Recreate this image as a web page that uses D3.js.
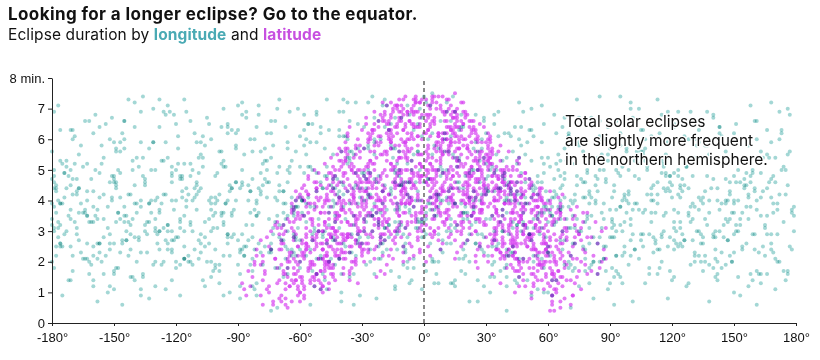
<!DOCTYPE html>
<html><head><meta charset="utf-8">
<script src="https://cdn.jsdelivr.net/npm/d3@7"></script>
<style>
body{margin:0;background:#fff;}
svg{display:block;font-family:"Liberation Sans",Arial,Helvetica,sans-serif;}
circle.lon{mix-blend-mode:multiply;}
.wide{font-family:Inter,"Liberation Sans",Arial,sans-serif;}
</style></head><body>
<svg id="chart" width="820" height="360"></svg>
<script>
const titleText = "Looking for a longer eclipse? Go to the equator.";
const subtitleParts = ["Eclipse duration by ", "longitude", " and ", "latitude"];
const noteLines = ["Total solar eclipses", "are slightly more frequent", "in the northern hemisphere."];
const xTicks = [-180,-150,-120,-90,-60,-30,0,30,60,90,120,150,180];
const yTicks = [0,1,2,3,4,5,6,7,8];
const seriesNames = ["longitude","latitude"];
// each eclipse: [longitude°, latitude°, duration in minutes]
const eclipses = [
[-152,-84,1.2],[33,-82,1.9],[-97,-86,0.9],[121,-81,2.4],[-12,-83,1.5],[170,-87,1.1],[-64,-81,2.2],[78,-85,1.7],[-130,-82,2.0],[5,-88,1.3],
[-171,-78,1.4],[-44,-76,2.8],[62,-79,0.9],[143,-74,3.0],[-109,-72,2.1],[18,-77,1.7],[-3,-71,3.1],[97,-75,2.5],[-158,-73,0.7],[-78,-79,1.9],[128,-71,1.3],[-26,-74,2.4],[45,-72,3.2],[165,-78,2.2],[-137,-76,1.1],[-92,-70,2.9],[84,-77,1.6],[-55,-73,0.6],[112,-79,2.7],[-118,-71,3.3],[29,-75,1.2],[-8,-78,2.0],
[-176,-68,2.6],[-141,-62,3.4],[-103,-66,1.5],[-67,-64,3.9],[-31,-69,0.9],[7,-61,4.1],[41,-65,2.2],[76,-67,3.0],[109,-63,1.8],[147,-69,2.7],[178,-61,3.6],[-160,-65,1.2],[-122,-70,2.4],[-85,-62,4.0],[-49,-67,1.6],[-14,-63,3.3],[22,-68,2.9],[58,-60,1.0],[93,-64,3.7],[131,-66,2.0],[-168,-60,4.2],[-133,-67,0.8],[-95,-63,2.8],[-58,-61,3.5],[-21,-66,2.1],[15,-64,1.4],[50,-69,3.1],[88,-61,2.5],[119,-68,1.7],[156,-63,3.8],[-147,-64,2.3],[-112,-61,1.9],[-74,-69,2.6],[-37,-62,4.3],[-1,-67,1.1],[34,-63,2.7],[69,-66,3.4],[101,-60,0.7],
[-179,-57,3.1],[-150,-52,4.6],[-126,-55,2.0],[-99,-59,1.3],[-71,-51,4.9],[-46,-56,3.6],[-18,-53,2.4],[9,-58,4.0],[37,-50,1.7],[64,-54,3.3],[90,-57,2.8],[116,-52,4.4],[141,-59,1.5],[169,-55,3.9],[-163,-50,2.6],[-137,-58,0.9],[-110,-53,3.7],[-83,-56,4.7],[-57,-59,2.2],[-29,-51,3.0],[-5,-55,1.8],[24,-57,4.3],[51,-52,2.9],[79,-58,3.5],[104,-51,2.1],[130,-56,4.8],[157,-53,1.2],[-171,-54,3.4],[-144,-59,2.7],[-117,-50,4.1],[-90,-54,1.9],[-62,-57,3.8],[-38,-52,2.5],[-11,-58,4.5],[16,-54,3.2],[44,-59,1.4],[71,-51,4.0],[97,-55,2.3],[123,-50,3.6],[150,-57,2.9],[176,-52,1.6],[-155,-56,4.2],[-128,-51,3.0],[-101,-57,2.4],[-76,-53,5.0],[-50,-50,1.1],[-24,-56,3.9],[3,-52,2.6],[30,-55,3.4],[57,-53,4.6],
[-174,-47,4.1],[-146,-43,2.7],[-119,-48,5.2],[-93,-41,3.5],[-66,-46,1.8],[-40,-44,4.6],[-13,-49,3.0],[14,-42,5.5],[40,-47,2.2],[67,-40,3.8],[94,-45,4.9],[120,-43,1.4],[147,-48,3.3],[173,-41,5.0],[-160,-45,2.5],[-133,-40,3.9],[-106,-49,1.2],[-80,-44,4.4],[-53,-47,3.1],[-27,-41,5.7],[0,-45,2.8],[27,-48,4.0],[53,-43,3.4],[81,-46,1.9],[107,-41,5.3],[134,-49,2.6],[160,-44,4.3],[-167,-42,3.6],[-139,-47,2.0],[-113,-43,4.8],[-86,-48,3.2],[-60,-42,2.4],[-33,-46,4.9],[-7,-40,3.7],[20,-44,1.6],[47,-49,3.0],[74,-42,4.5],[100,-47,2.7],[127,-40,5.1],[153,-46,3.4],[-153,-49,1.0],[-126,-44,3.1],[-99,-40,5.6],[-73,-45,2.9],[-46,-49,3.8],[-20,-43,2.3],[7,-47,4.2],[33,-41,3.5],[60,-45,5.4],[87,-49,2.1],[113,-42,3.9],[140,-47,4.7],[166,-43,2.9],[-177,-40,3.3],[-72,-41,4.1],[-36,-48,1.5],[-2,-43,5.0],[25,-40,2.6],[48,-46,3.6],[-122,-46,4.0],[96,-43,3.0],[-89,-47,2.3],
[-178,-36,4.5],[-152,-32,2.9],[-125,-38,5.9],[-98,-31,3.6],[-70,-35,1.8],[-43,-39,4.8],[-17,-33,3.2],[10,-37,6.2],[36,-30,2.6],[63,-34,4.1],[89,-38,5.3],[116,-32,3.0],[142,-36,1.6],[168,-31,4.7],[-164,-39,3.7],[-138,-34,5.1],[-111,-30,2.4],[-84,-37,4.3],[-57,-32,6.0],[-31,-35,2.8],[-4,-39,4.0],[23,-33,3.5],[50,-36,1.4],[77,-31,5.6],[103,-35,3.9],[130,-39,2.7],[156,-33,4.9],[-171,-30,6.3],[-145,-37,3.3],[-118,-33,1.9],[-91,-39,4.6],[-64,-30,3.8],[-37,-34,5.4],[-10,-31,2.5],[17,-38,4.4],[43,-32,3.1],[70,-37,6.1],[96,-30,2.2],[123,-34,4.2],[149,-38,3.6],[175,-35,5.0],[-157,-31,2.6],[-130,-36,4.0],[-104,-32,3.4],[-77,-38,5.7],[-50,-33,2.1],[-24,-37,4.7],[3,-30,3.9],[30,-35,5.2],[56,-39,2.9],[83,-32,4.5],[110,-37,3.3],[136,-31,5.8],[162,-36,2.3],[-149,-35,4.4],[-122,-31,3.0],[-95,-36,6.4],[-68,-33,2.7],[-41,-30,4.1],[-14,-36,3.7],[13,-32,1.3],[39,-38,4.9],[66,-33,3.4],[92,-39,2.8],[119,-30,4.6],[145,-35,3.2],[-175,-33,3.9],[-81,-34,4.0],[-27,-32,5.0],[6,-34,3.5],[59,-31,4.3],[-116,-39,2.1],
[-173,-27,5.1],[-147,-22,3.4],[-120,-28,6.5],[-93,-21,2.8],[-66,-26,4.6],[-39,-24,6.9],[-12,-29,3.7],[15,-23,5.4],[42,-27,2.3],[68,-20,4.9],[95,-25,6.2],[121,-22,3.1],[148,-28,4.3],[174,-21,1.7],[-160,-24,3.8],[-133,-29,5.7],[-106,-23,2.5],[-79,-27,4.2],[-52,-21,5.9],[-25,-25,3.0],[2,-28,4.7],[29,-22,6.6],[55,-26,3.5],[82,-29,2.0],[108,-24,5.0],[135,-20,3.9],[161,-27,6.0],[-167,-21,2.7],[-140,-25,4.5],[-113,-20,3.3],[-86,-28,6.7],[-59,-23,4.0],[-32,-27,2.6],[-5,-21,5.5],[22,-26,4.1],[48,-20,3.2],[75,-24,5.8],[101,-28,2.9],[128,-23,4.4],[154,-26,3.6],[-179,-29,4.8],[-154,-20,2.2],[-127,-26,5.3],[-100,-22,4.0],[-73,-29,3.1],[-46,-25,6.3],[-19,-20,4.5],[8,-24,2.4],[35,-29,5.0],[62,-23,3.8],[88,-27,4.6],[115,-21,6.8],[141,-25,2.8],[168,-22,4.1],[-163,-28,3.5],[-136,-23,1.5],[-109,-27,4.9],[-82,-22,3.7],[-55,-28,5.1],[-28,-22,3.3],[-1,-26,6.1],[26,-21,2.9],[52,-25,4.4],[79,-22,3.4],[105,-26,5.6],[132,-29,3.0],[158,-21,4.8],[-150,-27,5.9],[-116,-24,2.1],[-70,-20,4.3],[-36,-28,3.9],[-8,-23,4.2],[19,-27,3.6],[45,-24,5.2],[72,-28,2.6],[98,-21,4.0],[125,-27,4.7],[-176,-24,3.2],
[-170,-17,6.0],[-144,-12,3.5],[-117,-18,4.8],[-90,-11,7.1],[-63,-16,2.9],[-36,-13,5.3],[-9,-19,3.8],[18,-14,6.4],[45,-11,4.2],[71,-17,2.2],[98,-12,5.6],[124,-18,3.3],[151,-15,4.6],[177,-10,6.8],[-157,-14,2.6],[-130,-19,5.0],[-103,-13,3.9],[-76,-18,6.2],[-49,-10,4.4],[-22,-15,2.1],[5,-12,5.8],[32,-17,3.4],[58,-13,4.9],[85,-19,6.6],[111,-11,2.8],[138,-16,4.0],[164,-12,5.4],[-177,-18,3.1],[-150,-11,4.7],[-123,-15,6.9],[-97,-19,3.6],[-70,-14,5.1],[-43,-18,1.9],[-16,-11,4.3],[11,-16,7.2],[38,-12,3.0],[65,-18,5.5],[91,-14,4.1],[118,-10,2.5],[144,-17,6.1],[171,-13,3.7],[-163,-16,5.2],[-137,-10,2.3],[-110,-14,4.5],[-83,-12,3.2],[-56,-17,6.5],[-29,-13,4.8],[-2,-18,3.3],[25,-10,5.9],[52,-15,2.7],[78,-11,4.6],[105,-17,6.3],[131,-13,3.8],[158,-19,1.6],[-143,-17,4.2],[-116,-12,7.3],[-89,-16,2.4],[-62,-11,4.0],[-35,-19,5.6],[-8,-14,2.8],[19,-19,4.4],[46,-16,6.0],[72,-12,3.5],[99,-15,5.0],[125,-11,4.3],[152,-14,3.0],[-174,-12,4.9],[-103,-17,3.0],[-50,-14,4.6],[-15,-16,5.7],[2,-11,3.9],[39,-14,4.7],[86,-13,3.1],[-128,-13,3.6],[62,-19,4.1],[116,-16,5.2],[-67,-19,3.4],[-24,-12,6.7],[134,-19,2.9],[-160,-11,3.3],
[-178,-6,4.4],[-151,-2,6.7],[-124,-8,3.2],[-97,-1,5.1],[-70,-5,7.3],[-43,-9,3.9],[-16,-3,5.8],[11,-7,2.6],[38,-1,4.8],[64,-6,6.2],[91,-4,3.4],[117,-9,5.5],[144,-2,2.3],[170,-7,4.6],[-164,-4,3.6],[-137,-9,5.9],[-110,-3,4.2],[-83,-7,2.1],[-56,-2,6.5],[-29,-6,4.0],[-2,-10,7.0],[25,-4,3.3],[52,-8,5.3],[78,-3,4.1],[105,-7,2.9],[131,-1,6.0],[158,-5,3.8],[-171,-9,5.0],[-144,-3,2.7],[-117,-6,4.7],[-90,-10,6.3],[-63,-4,3.5],[-36,-8,5.4],[-9,-2,2.4],[18,-5,6.8],[45,-9,4.3],[71,-2,3.1],[98,-6,5.7],[124,-10,4.5],[151,-3,3.0],[177,-8,5.6],[-157,-7,4.1],[-130,-1,3.0],[-103,-5,6.0],[-76,-9,4.6],[-49,-3,2.8],[-22,-7,6.6],[5,-1,3.7],[32,-6,5.0],[58,-10,3.6],[85,-4,7.4],[111,-8,4.0],[138,-2,5.2],[164,-6,2.5],[-147,-5,4.9],[-120,-10,2.0],[-93,-4,4.4],[-66,-8,5.7],[-39,-1,3.8],[-12,-5,4.5],[15,-9,3.9],[42,-3,6.1],[68,-7,4.7],[95,-1,3.2],[121,-5,6.4],[148,-9,4.2],[-167,-2,5.5],[-106,-8,3.3],[-52,-6,4.9],[-19,-9,3.1],[8,-4,5.1],[55,-5,2.2],[102,-3,4.8],[-140,-7,3.9],[161,-1,4.0],[-80,-1,3.6],[28,-8,4.2],[75,-9,5.9],[-33,-4,7.2],[128,-6,3.5],[-4,-6,4.6],[-60,-10,4.1],
[-175,3,5.2],[-148,8,3.6],[-121,1,6.8],[-94,6,4.3],[-67,2,2.5],[-40,9,5.6],[-13,4,3.9],[14,7,7.4],[41,1,4.6],[67,5,3.0],[94,9,5.9],[120,3,4.1],[147,7,2.7],[173,2,6.3],[-161,5,4.7],[-134,10,3.3],[-107,4,5.4],[-80,8,7.1],[-53,1,3.8],[-26,6,4.9],[1,3,2.9],[28,9,6.0],[54,4,4.4],[81,8,3.5],[107,2,5.7],[134,6,4.0],[160,10,6.6],[-168,7,3.1],[-141,1,5.0],[-114,6,4.2],[-87,3,2.2],[-60,7,6.1],[-33,2,4.5],[-6,8,5.3],[21,5,3.4],[48,10,6.9],[74,1,4.8],[101,7,3.7],[127,4,5.1],[154,8,2.4],[-178,9,4.3],[-154,3,6.5],[-127,8,3.9],[-100,2,4.9],[-73,6,5.8],[-46,10,3.2],[-19,3,6.4],[8,6,4.0],[35,2,5.5],[61,7,3.6],[88,3,4.7],[114,9,6.2],[141,5,3.0],[167,1,4.6],[-147,6,5.6],[-120,4,2.8],[-93,9,4.4],[-66,5,3.5],[-39,1,7.3],[-12,7,5.0],[15,3,3.1],[42,8,4.2],[68,2,6.7],[95,6,3.8],[121,10,4.9],[-171,4,3.7],[-110,7,5.9],[-56,4,4.1],[-22,9,3.3],[4,1,6.2],[31,6,4.8],[58,8,5.2],[85,1,2.0],[111,5,4.5],[-137,2,4.0],[-84,10,3.6],[-29,5,5.7],[-3,9,4.3],[24,4,5.0],[77,6,4.1],[131,8,5.4],[-158,9,2.6],[-44,3,4.7],[49,5,3.9],[104,3,7.0],[-97,1,3.2],[17,10,4.6],[157,4,3.4],
[-172,14,4.8],[-145,18,6.6],[-118,11,3.4],[-91,16,5.7],[-64,12,4.1],[-37,19,7.2],[-10,13,2.9],[17,17,5.3],[44,11,4.0],[70,15,6.1],[97,19,3.3],[123,12,5.0],[150,16,2.3],[176,13,4.5],[-158,11,3.7],[-131,15,5.9],[-104,19,2.6],[-77,13,4.7],[-50,17,6.4],[-23,11,3.6],[4,15,7.5],[31,19,4.3],[57,12,3.1],[84,16,5.4],[110,20,4.2],[137,14,6.9],[163,18,3.5],[-165,17,5.1],[-138,12,2.8],[-111,16,4.4],[-84,11,6.0],[-57,15,3.3],[-30,20,4.9],[-3,12,5.6],[24,16,3.8],[51,13,6.3],[77,18,2.5],[104,11,4.7],[130,15,3.9],[157,19,5.8],[-179,16,3.0],[-152,20,4.6],[-125,13,6.8],[-98,17,3.5],[-71,14,4.0],[-44,12,5.5],[-17,16,3.2],[10,11,6.0],[37,14,4.4],[64,18,5.2],[90,12,3.7],[117,17,4.8],[143,11,6.2],[170,15,2.1],[-151,13,4.1],[-124,18,3.2],[-97,12,7.0],[-70,19,4.5],[-43,15,2.7],[-16,19,6.5],[11,13,4.1],[38,18,3.0],[65,14,5.0],[92,17,4.3],[118,13,5.9],[-168,12,4.3],[-115,14,3.8],[-60,16,5.1],[-26,14,4.2],[1,18,3.6],[28,12,5.7],[74,11,3.4],[101,15,6.7],[147,18,4.0],[-141,16,5.3],[-88,18,2.9],[-7,15,4.6],[47,16,4.9],[124,19,3.1],[-180,14,3.9],[-34,12,3.5],[55,19,4.2],[-79,15,5.6],[160,12,4.4],[-101,20,3.9],[20,14,4.8],[86,13,6.0],[-12,18,3.3],
[-176,24,3.9],[-149,28,5.6],[-122,21,2.7],[-95,25,6.2],[-68,29,4.3],[-41,22,3.1],[-14,26,5.0],[13,23,6.6],[40,27,3.6],[66,21,4.8],[93,25,2.2],[119,29,5.4],[146,22,4.0],[172,26,6.0],[-162,22,3.3],[-135,26,4.7],[-108,30,5.9],[-81,23,3.5],[-54,27,6.5],[-27,21,4.2],[0,25,3.0],[27,29,5.3],[53,22,4.5],[80,26,1.8],[106,23,6.3],[133,27,3.7],[159,21,4.9],[-169,29,5.2],[-142,23,2.9],[-115,27,4.4],[-88,21,6.8],[-61,25,3.8],[-34,30,5.5],[-7,23,4.1],[20,27,2.6],[47,21,5.8],[73,25,4.0],[100,29,3.2],[126,22,6.1],[153,26,4.6],[-155,25,3.4],[-128,29,6.4],[-101,22,4.1],[-74,26,2.4],[-47,23,5.1],[-20,28,3.9],[7,21,5.7],[34,25,4.3],[60,29,3.3],[87,22,5.0],[113,26,4.2],[140,30,2.8],[166,23,5.5],[-179,21,4.6],[-112,25,3.0],[-58,22,4.9],[-24,25,6.0],[3,28,3.7],[30,22,4.7],[57,26,5.9],[83,29,3.9],[110,24,4.4],[136,25,2.0],[163,28,4.1],[-145,21,5.7],[-91,28,4.0],[-38,26,3.4],[17,25,5.4],[70,23,3.8],[123,28,4.8],[-171,27,2.5],[-64,24,5.3],[-11,29,4.5],[44,24,6.4],[96,27,5.1],[-132,24,3.6],[150,24,3.6],[-84,30,4.3],[23,30,3.2],[-50,29,2.2],[-3,22,5.6],[63,27,4.7],[116,21,3.5],[-118,23,4.8],
[-173,34,4.4],[-146,38,2.6],[-119,31,5.7],[-92,35,3.7],[-65,39,4.9],[-38,32,6.1],[-11,36,3.2],[16,33,4.6],[43,37,2.3],[69,31,5.3],[96,35,4.0],[122,39,3.0],[149,32,5.9],[175,36,4.2],[-159,33,3.5],[-132,37,5.0],[-105,31,2.0],[-78,35,4.5],[-51,39,3.4],[-24,33,5.5],[3,37,4.1],[30,31,6.2],[56,35,3.6],[83,39,4.8],[109,32,2.9],[136,36,4.3],[162,33,1.6],[-166,39,3.9],[-139,32,5.4],[-112,36,4.0],[-85,33,2.7],[-58,37,5.8],[-31,31,4.4],[-4,35,3.1],[23,39,5.0],[50,32,3.9],[76,36,4.7],[103,33,5.6],[129,37,3.3],[156,31,4.5],[-152,35,2.4],[-125,39,4.2],[-98,32,5.2],[-71,36,3.5],[-44,34,4.0],[-17,38,2.8],[10,32,5.6],[37,36,3.3],[63,33,4.3],[90,37,1.3],[116,31,5.1],[143,35,3.7],[169,38,4.8],[-179,31,5.0],[-118,34,3.1],[-62,33,2.2],[-28,36,4.7],[7,34,3.8],[34,38,4.9],[60,31,2.5],[87,34,3.4],[113,38,4.6],[-145,31,3.8],[-88,38,4.6],[-8,32,5.2],[40,34,4.1],[126,34,2.7],[-160,37,4.3],[-48,35,3.0],[19,35,3.6],[73,38,3.1],[-101,36,4.8],[153,38,3.2],[-21,31,6.0],[99,30,4.2],[-134,34,2.9],[-74,31,5.4],[46,39,3.9],
[-178,43,3.6],[-151,47,4.8],[-124,41,2.4],[-97,45,5.3],[-70,49,3.2],[-43,42,4.4],[-16,46,1.7],[11,43,5.0],[38,47,3.5],[64,41,4.2],[91,45,2.8],[117,49,4.9],[144,42,3.9],[170,46,5.4],[-164,44,2.1],[-137,48,3.8],[-110,42,4.6],[-83,46,1.2],[-56,43,5.1],[-29,47,3.4],[-2,41,4.0],[25,45,2.6],[51,49,4.7],[78,42,3.3],[104,46,5.2],[131,43,2.2],[157,47,4.1],[-171,41,4.5],[-144,45,3.0],[-117,49,4.3],[-90,43,2.7],[-63,47,3.7],[-36,41,5.6],[-9,45,3.1],[18,49,3.9],[45,42,4.6],[71,46,1.9],[98,43,3.6],[124,47,4.4],[151,41,3.2],[177,45,2.5],[-157,49,4.9],[-130,42,3.4],[-103,46,2.0],[-76,44,4.1],[-49,48,2.9],[-22,42,4.8],[5,46,3.5],[32,44,1.0],[58,48,3.8],[85,41,5.0],[111,44,2.3],[138,48,3.6],[164,42,4.3],[-150,43,2.6],[-96,41,3.9],[-42,48,4.2],[13,41,3.0],[67,44,4.5],[121,43,3.7],[-180,48,3.2],[-63,44,2.3],[-14,43,4.6],[39,45,4.0],[92,49,3.2],[-120,45,5.0],[150,46,4.8],[-5,48,2.1],[-32,44,3.9],[80,47,4.3],
[-174,53,2.9],[-147,57,4.1],[-120,51,1.8],[-93,55,3.6],[-66,59,2.4],[-39,52,4.5],[-12,56,3.1],[15,53,1.2],[42,57,4.0],[68,51,2.7],[95,55,3.8],[121,59,1.5],[148,52,4.6],[174,56,3.3],[-160,54,2.2],[-133,58,3.9],[-106,52,2.8],[-79,56,4.3],[-52,53,1.6],[-25,57,3.5],[2,51,4.7],[29,55,2.3],[55,59,3.4],[82,52,0.8],[108,56,4.2],[135,53,2.6],[161,57,3.7],[-167,51,4.4],[-140,55,1.4],[-113,59,3.2],[-86,53,2.5],[-59,57,4.0],[-32,51,2.9],[-5,55,3.8],[22,59,2.0],[49,52,4.1],[75,56,3.0],[102,53,2.4],[128,57,3.6],[155,51,4.5],[-153,58,3.1],[-126,53,4.2],[-99,57,1.9],[-72,51,3.3],[-45,55,2.1],[-18,59,3.7],[9,52,2.7],[36,56,4.4],[62,54,3.5],[89,58,1.1],[115,51,2.9],[142,55,4.0],[168,59,2.4],[-180,55,3.4],[-116,55,3.0],[-62,54,3.8],[-9,58,2.6],[45,54,3.2],[99,59,3.9],[141,51,2.1],
[-169,63,3.3],[-142,67,1.5],[-115,61,4.0],[-88,65,2.4],[-61,69,3.1],[-34,62,0.6],[-7,66,3.6],[20,63,2.2],[47,67,4.2],[73,61,1.8],[100,65,3.4],[126,69,2.7],[153,62,0.9],[179,66,3.8],[-155,61,2.8],[-128,65,3.7],[-101,69,1.9],[-74,63,0.4],[-47,67,2.6],[-20,61,4.3],[7,65,1.3],[34,69,3.0],[60,62,2.3],[87,66,3.9],[113,63,1.6],[140,67,2.9],[166,61,3.5],[-162,68,2.0],[-135,62,3.2],[-108,66,2.6],[-81,61,3.9],[-54,65,1.7],[-27,69,2.8],[0,62,3.3],[26,66,0.7],[53,63,2.0],[80,68,3.1],[106,61,2.5],[133,65,4.1],[159,69,1.4],[-148,64,3.6],[-94,67,2.2],[-40,64,1.0],[13,68,3.4],[66,64,2.7],
[-176,73,2.6],[-149,77,3.3],[-122,71,1.4],[-95,75,2.9],[-68,79,3.6],[-41,72,2.1],[-14,76,1.1],[13,73,3.2],[40,77,2.4],[66,71,3.7],[93,75,1.7],[119,79,2.8],[146,72,3.4],[172,76,2.0],[-162,79,1.6],[-135,74,3.0],[-108,78,2.3],[-81,72,0.9],[-54,76,2.7],[-27,73,3.5],[0,78,1.9],[27,72,2.5],[53,76,3.1],[80,73,1.3],[106,77,3.6],[133,71,2.2],[159,75,2.9],[-12,74,3.8],
[-170,82,2.2],[-128,86,3.0],[-83,81,1.7],[-39,84,2.6],[4,88,2.1],[48,83,3.3],[91,85,1.8],[135,81,2.8],[178,87,2.4],[-150,84,1.6],[70,86,2.0],[-100,88,3.1],
[-165,-58,2.1],[-139,-64,3.6],[-108,-52,4.4],[-81,-67,1.3],[-53,-55,3.0],[-22,-61,2.5],[12,-53,3.9],[39,-66,1.8],[73,-56,4.2],[106,-62,2.9],[137,-51,3.2],[163,-68,1.6],[-173,-63,3.0],[-124,-57,2.6],[-88,-50,4.5],[-60,-65,2.0],[-27,-52,4.1],[1,-60,3.4],[31,-58,2.2],[60,-63,3.7],[92,-53,1.5],[121,-65,3.3],[152,-58,4.0],[-150,-61,1.1],[-102,-64,3.1],[-44,-59,4.4],[-9,-65,2.3],[20,-50,3.6],[52,-61,0.9],[84,-52,4.3],[114,-69,2.4],[145,-54,2.8],[-179,-52,3.8],[-131,-69,1.9],[-69,-54,2.7],[-34,-68,3.2],[68,-59,4.1],[171,-62,2.0],[-116,-59,3.5],[45,-55,1.3],
[-168,-44,4.7],[-142,-36,3.2],[-114,-48,2.2],[-87,-33,5.5],[-59,-41,4.0],[-32,-47,2.7],[-6,-35,5.0],[21,-43,3.6],[49,-31,4.6],[78,-49,2.4],[102,-38,5.3],[129,-45,3.8],[155,-32,4.4],[179,-42,3.0],[-156,-39,5.2],[-129,-46,2.9],[-103,-34,4.1],[-75,-42,3.4],[-48,-37,5.7],[-19,-44,3.1],[8,-32,4.8],[35,-46,2.5],[61,-36,5.1],[91,-43,3.3],[115,-34,4.9],[142,-48,2.0],[167,-38,5.4],[-177,-45,2.8],[-148,-31,5.0],[-121,-40,3.7],[-94,-46,4.5],[-66,-31,3.0],[-39,-43,4.2],[-12,-38,5.6],[15,-48,3.9],[42,-34,4.3],[70,-45,3.1],[95,-33,5.8],[124,-41,2.6],[150,-30,4.0],[-161,-48,3.3],[-135,-33,4.6],[-107,-44,5.1],[-79,-30,2.3],[-52,-45,4.3],[-25,-31,3.5],[0,-41,4.6],[28,-37,2.9],[55,-44,4.8],[86,-35,3.6],[110,-47,4.0],[138,-37,5.5],[160,-49,2.4],[-170,-35,4.2],[-96,-38,3.9],[-63,-48,3.6],[-29,-39,4.9],[4,-46,2.0],[38,-40,5.3],[65,-32,3.8],[118,-30,4.4],[-145,-42,3.5],[-83,-45,2.8],[-16,-47,4.4],[24,-33,5.7],[81,-41,4.1],[133,-43,3.0],[-124,-31,5.4],[-43,-33,3.3],[57,-38,2.1],
[-166,-22,5.8],[-139,-15,3.9],[-111,-27,6.2],[-85,-12,4.5],[-58,-19,6.8],[-31,-25,4.1],[-3,-13,6.5],[24,-21,3.7],[50,-16,5.9],[77,-28,4.6],[103,-11,6.6],[130,-24,3.4],[157,-18,5.3],[-179,-14,4.4],[-152,-26,6.0],[-125,-19,2.7],[-98,-24,5.6],[-71,-13,7.0],[-44,-28,3.8],[-17,-17,6.3],[9,-26,4.9],[36,-12,6.9],[63,-22,3.2],[90,-16,5.7],[117,-29,4.3],[143,-13,6.4],[169,-23,3.6],[-159,-11,5.0],[-132,-21,4.0],[-105,-16,6.7],[-78,-25,5.2],[-51,-14,3.0],[-24,-23,5.9],[3,-18,7.1],[30,-27,4.4],[57,-11,5.4],[84,-21,2.6],[110,-15,6.1],[137,-26,4.8],[163,-10,5.6],[-172,-25,3.5],[-145,-17,6.6],[-118,-23,4.7],[-91,-14,5.8],[-64,-27,2.4],[-37,-11,6.0],[-10,-24,4.6],[16,-15,5.1],[43,-29,3.3],[70,-13,6.2],[97,-26,4.1],[123,-19,6.9],[150,-11,3.9],[176,-20,5.5],[-163,-28,4.3],[-136,-12,5.4],[-81,-20,3.5],[-54,-16,5.0],[-27,-20,7.2],[-1,-29,3.4],[26,-18,5.6],[52,-24,6.3],[80,-17,4.2],[107,-20,3.7],[133,-16,5.9],[160,-26,2.9],[-149,-22,4.6],[-95,-28,4.0],[-41,-21,6.1],[12,-20,4.3],[66,-26,5.3],[120,-13,4.5],[-176,-16,6.3],[-122,-11,4.9],[-67,-22,6.4],[-13,-27,5.2],[40,-19,4.0],[93,-12,5.0],[146,-21,4.7],[-108,-20,2.9],
[-169,-3,6.1],[-142,5,4.2],[-115,-8,6.9],[-88,2,5.0],[-61,-6,7.0],[-34,8,4.4],[-7,-1,6.8],[20,6,3.8],[47,-9,6.4],[73,3,5.2],[100,-4,7.2],[126,9,4.5],[153,-7,6.0],[179,1,3.5],[-155,-9,5.4],[-128,4,7.3],[-101,-2,3.6],[-74,7,6.2],[-47,-5,4.8],[-20,2,7.1],[7,-8,5.0],[34,5,6.5],[60,-3,4.0],[87,9,6.0],[113,-6,5.3],[140,3,6.8],[166,-9,4.4],[-162,1,6.6],[-135,-5,4.5],[-108,9,5.5],[-81,-3,6.4],[-54,5,2.9],[-27,-9,5.8],[0,4,7.4],[27,-2,4.6],[53,7,6.1],[80,-7,3.9],[106,1,5.6],[133,-10,6.3],[159,6,5.0],[-176,-7,3.9],[-149,8,5.7],[-122,-1,4.8],[-95,-9,6.5],[-68,3,4.3],[-41,-4,6.9],[-14,9,4.9],[13,-6,6.1],[40,2,5.4],[66,-10,4.4],[93,5,6.6],[119,-2,4.8],[146,8,5.6],[172,-5,6.9],[-158,-1,3.4],[-131,6,5.9],[-104,-6,4.0],[-77,1,5.3],[-50,-8,6.2],[-23,4,4.6],[4,-3,5.5],[31,10,4.3],[57,-5,7.1],[84,4,4.7],[110,-9,3.6],[137,2,5.8],[163,-3,4.9],[-173,6,5.3],[-119,3,6.1],[-65,-1,5.1],[-11,5,6.7],[43,-7,5.6],[97,7,4.2],[150,0,6.2],[-145,-8,6.0],[-91,6,4.6],[-37,-2,5.2],[17,2,6.3],[70,8,5.8],[124,-6,4.1],[-180,-2,4.7],[-57,9,5.5],[-3,-6,3.3],[89,-1,5.5],[-112,5,5.0],
[-167,21,4.4],[-140,13,6.4],[-113,26,5.2],[-86,15,6.9],[-59,28,3.6],[-32,17,5.7],[-5,24,6.3],[22,12,4.9],[49,27,5.5],[75,14,6.7],[102,22,3.9],[128,17,6.0],[155,29,4.7],[-180,11,5.6],[-153,24,3.8],[-126,16,5.3],[-99,29,4.2],[-72,11,6.6],[-45,21,4.5],[-18,13,7.1],[9,27,5.0],[36,16,6.1],[62,23,3.5],[89,11,6.4],[115,26,5.3],[142,14,4.4],[168,23,5.9],[-160,15,6.2],[-133,27,3.3],[-106,13,5.8],[-79,24,4.9],[-52,16,6.8],[-25,28,3.7],[2,20,6.0],[29,14,5.4],[55,25,4.6],[82,19,6.5],[108,13,5.1],[135,25,4.1],[161,16,6.6],[-174,28,4.9],[-147,17,5.9],[-120,22,4.0],[-93,14,6.3],[-66,26,5.0],[-39,18,6.1],[-12,22,4.8],[15,11,6.9],[42,29,4.4],[68,17,5.7],[95,23,4.8],[121,15,6.5],[148,27,3.4],[174,19,5.1],[-163,19,4.0],[-109,21,5.4],[-55,13,5.9],[-1,16,6.7],[53,21,4.3],[106,18,5.5],[-137,20,6.9],[-83,27,5.6],[-29,15,6.4],[25,21,4.1],[79,28,5.0],[132,12,5.8],[-176,25,5.3],[-122,29,4.6],[-68,20,3.9],[-15,27,5.4],[39,23,6.2],[92,29,4.5],[145,20,5.2],[-150,11,4.8],[-96,23,5.1],[-42,25,4.7],[12,25,5.6],[66,13,4.0],[119,24,4.3],[171,28,3.9],
[-170,38,4.7],[-143,46,3.3],[-116,33,5.2],[-89,41,4.4],[-62,36,5.6],[-35,48,2.9],[-8,39,4.6],[19,44,3.4],[46,32,5.4],[72,47,3.9],[99,37,4.3],[125,43,2.5],[152,34,5.0],[178,49,3.7],[-156,31,5.8],[-129,44,4.1],[-102,38,3.5],[-75,47,4.6],[-48,33,4.8],[-21,42,3.6],[6,48,4.2],[33,35,5.1],[59,43,2.8],[86,31,5.5],[112,45,3.6],[139,36,4.4],[165,41,3.1],[-163,47,3.5],[-136,35,4.8],[-109,45,4.3],[-82,32,6.0],[-55,44,3.8],[-28,35,4.4],[-1,46,3.3],[26,38,5.0],[52,47,4.1],[79,34,4.9],[105,42,2.7],[132,31,5.3],[158,45,4.6],[-177,34,4.0],[-122,40,5.1],[-68,42,3.2],[-14,33,5.7],[40,41,4.5],[93,48,3.0],[146,39,3.9],[-149,39,4.5],[-95,49,2.6],[-41,39,4.3],[13,37,4.4],[66,38,3.7],[119,33,4.8],[172,43,4.2],[-130,49,3.1],[-76,37,5.3],[-22,49,3.2],[30,44,4.2],[83,44,4.0],[136,47,3.4],
[-165,52,3.6],[-138,61,2.7],[-111,56,4.1],[-84,64,1.9],[-57,51,3.9],[-30,59,2.6],[-3,63,3.4],[24,54,4.0],[51,58,2.9],[78,66,2.1],[104,53,3.7],[131,60,2.3],[157,55,4.2],[-178,60,2.5],[-151,53,4.0],[-124,67,3.0],[-97,52,3.3],[-70,58,2.8],[-43,66,3.5],[-16,53,4.2],[11,60,3.0],[38,52,3.7],[64,62,1.4],[91,54,3.1],[117,66,3.6],[144,57,1.8],[171,63,2.9],[-157,66,2.3],[-103,61,3.7],[-49,57,4.4],[5,56,2.0],[59,55,3.8],[112,59,2.6],[165,54,3.2],[-82,54,2.4],
[-161,-47,1.9],[-134,-38,2.3],[-107,-55,1.4],[-80,-42,2.6],[-53,-61,1.2],[-26,-35,2.0],[1,-50,1.7],[28,-44,2.4],[55,-58,1.1],[82,-37,2.8],[109,-52,1.6],[136,-41,2.2],[163,-63,1.3],[-175,-56,2.5],[-148,-45,1.8],[-121,-33,2.7],[-94,-60,1.0],[-67,-49,2.1],[-40,-39,1.6],[-13,-57,2.4],[14,-46,1.3],[41,-36,2.9],[68,-53,1.9],[95,-44,1.5],[122,-59,2.6],[149,-34,2.0],[176,-48,1.7],[-168,-40,2.9],[-141,-54,1.5],[-114,-46,2.0],[-87,-35,2.5],[-60,-56,1.8],[-33,-43,2.2],[-6,-62,1.4],[21,-38,2.7],[48,-51,2.1],[75,-65,1.2],[102,-40,2.4],[129,-55,1.9],[156,-47,2.6],[-155,-62,1.6],[-128,-49,2.4],[-101,-39,1.8],[-74,-58,2.3],[-47,-46,1.1],[-20,-33,2.6],[7,-54,2.0],[34,-60,1.5],[61,-42,2.2],[88,-56,1.7],[115,-37,2.8],[142,-53,1.4],[169,-39,2.3],[-179,-44,1.8],[-116,-63,2.1],[-63,-37,2.8],[-10,-48,1.9],[43,-57,2.5],[96,-50,1.3],[149,-60,2.0],[-142,-29,2.4],[-89,-52,1.6],[-36,-59,2.3],[17,-41,2.1],[70,-48,1.8],[123,-36,2.5],[-172,-51,1.4],[-119,-42,2.8],[-66,-63,1.6],[-13,-37,2.9],[40,-49,1.2],[93,-61,2.2],[146,-44,1.9],[-150,-36,1.7],[-97,-47,2.2],[-44,-53,2.7],[9,-40,2.3],[62,-62,1.4],[115,-46,2.0],[168,-57,2.6],[-130,-58,1.2],[-77,-31,2.5],[-24,-45,1.6],[29,-52,2.8],[82,-33,2.0],[135,-61,1.7],[-160,-70,1.4],[-52,-72,2.1],[58,-71,1.8],[150,-75,1.0],
[-163,37,2.1],[-136,52,1.6],[-109,44,2.7],[-82,63,1.1],[-55,41,2.4],[-28,56,1.9],[-1,34,2.8],[26,48,1.4],[53,60,2.2],[80,39,2.6],[107,53,1.3],[134,46,2.0],[161,65,1.7],[-176,50,2.5],[-149,40,1.8],[-122,58,2.3],[-95,35,2.9],[-68,54,1.5],[-41,45,2.1],[-14,67,1.2],[13,42,2.6],[40,55,1.9],[67,36,2.4],[94,62,1.6],[121,49,2.7],[148,38,2.2],[175,57,1.4],[-156,61,2.0],[-129,47,2.6],[-102,55,1.7],[-75,40,2.3],[-48,64,1.4],[-21,51,2.8],[6,59,1.6],[33,43,2.5],[60,52,1.0],[87,45,2.1],[114,68,1.8],[141,54,2.4],[168,42,2.9],[-170,45,1.7],[-143,59,2.2],[-116,38,2.5],[-89,49,1.2],[-62,58,2.7],[-35,37,2.3],[-8,53,1.8],[19,63,2.1],[46,46,1.5],[73,57,2.6],[100,41,2.2],[127,61,1.2],[154,50,2.5],[-180,64,2.0],[-127,42,1.9],[-74,59,2.4],[-21,44,2.6],[32,66,1.5],[85,50,2.8],[138,58,1.9],[-152,33,2.6],[-99,62,1.7],[-46,50,2.0],[7,45,2.9],[60,70,2.3],[113,35,2.4],[166,48,1.6],[-166,56,2.3],[-113,48,2.0],[-60,35,2.7],[-7,60,1.3],[46,39,2.1],[99,56,1.9],[152,63,1.5],[-140,66,2.8],[-87,43,2.2],[-34,62,1.6],[19,52,2.4],[72,44,1.7],[125,52,2.9],[-178,39,2.2],[-125,64,1.1],[-72,47,1.8],[-19,38,2.7],[34,58,2.0],[87,64,2.5],[140,43,1.8],[-158,74,2.1],[-62,73,2.8],[40,74,1.5],
[-164,-12,6.6],[-131,8,7.0],[-98,-4,6.4],[-65,15,6.9],[-32,-18,6.5],[1,6,7.2],[34,-8,6.8],[67,12,6.4],[100,-15,7.0],[133,4,6.6],[166,18,6.3],[-179,-6,6.9],[-146,14,6.2],[-113,-20,6.6],[-80,2,6.8],[-47,-10,7.3],[-14,20,6.7],[19,-2,6.4],[52,16,7.0],[85,-22,6.1],[118,9,6.9],[151,-5,6.5],[-157,22,6.4],[-124,-14,7.1],[-91,10,6.2],[-58,-25,6.3],[-25,5,7.4],[8,24,6.6],[41,-16,6.2],[74,-1,7.3],[107,19,6.0],[140,-11,6.7],[173,7,6.2],[-140,-2,7.2],[-107,26,6.1],[-74,-7,6.6],[-41,13,6.3],[-8,-13,7.1],[25,10,6.8],[58,-6,6.5],
[-177,3,7.1],[-159,-16,6.8],[-143,11,7.3],[-126,-8,6.9],[-88,18,7.2],[-52,-3,6.9],[-19,12,7.3],[11,-11,6.9],[46,4,7.2],[81,14,6.7],[113,-4,7.3],[129,19,6.9],[158,-13,7.1],[176,6,7.0],[-170,25,6.3],[-104,-24,6.5],[-36,22,6.6],[29,-20,6.7],[63,20,6.8],[95,-9,7.4],[143,16,6.4],[-66,28,5.9],[-136,9,7.4],[168,-2,7.2],
[-146,-78,0.6],[-118,72,0.9],[-71,-66,0.5],[-23,68,0.8],[22,-64,0.7],[71,66,0.5],[118,-70,0.8],[161,71,0.6],[-175,62,0.9],[-89,-58,0.8],[40,61,0.4],[92,-67,0.6],[138,62,0.7],[-40,-69,0.7]
];

const colors = {longitude:"#4aaab4", latitude:"#c750e0"};
const dotFill = {longitude:"#48b0ac", latitude:"#d63df0"};
const dotOpacity = {longitude:0.5, latitude:0.68};

const svg = d3.select("#chart");
const margin = {left:52, right:24, top:78, bottom:37};
const W = 820, H = 360;
const x = d3.scaleLinear().domain([-180,180]).range([margin.left, W-margin.right]);
const y = d3.scaleLinear().domain([0,8]).range([H-margin.bottom, margin.top]);

// title
svg.append("text").attr("class","wide").attr("x",8).attr("y",20).attr("font-size",17).attr("letter-spacing",0.4)
  .attr("font-weight","bold").attr("fill","#111").text(titleText);
const sub = svg.append("text").attr("class","wide").attr("x",8).attr("y",40).attr("font-size",15.5).attr("letter-spacing",0.1).attr("fill","#111");
subtitleParts.forEach((p,i)=>{
  const t = sub.append("tspan").text(p);
  if (seriesNames.includes(p)) t.attr("font-weight","bold").attr("fill",colors[p]);
});

// dots: latitude first, longitude multiplied on top
const gDots = svg.append("g");
gDots.selectAll("circle.lat").data(eclipses).join("circle")
  .attr("class","dot lat")
  .attr("cx",d=>x(d[1])).attr("cy",d=>y(d[2])).attr("r",2)
  .attr("fill",dotFill.latitude).attr("fill-opacity",dotOpacity.latitude);
gDots.selectAll("circle.lon").data(eclipses).join("circle")
  .attr("class","dot lon")
  .attr("cx",d=>x(d[0])).attr("cy",d=>y(d[2])).attr("r",2)
  .attr("fill",dotFill.longitude).attr("fill-opacity",dotOpacity.longitude);

// zero line
svg.append("line").attr("x1",x(0)).attr("x2",x(0)).attr("y1",y(7.9)).attr("y2",y(0))
  .attr("stroke","#666").attr("stroke-width",1.5).attr("stroke-dasharray","4,3");

// axes
const xAxis = svg.append("g").attr("transform",`translate(0,${y(0)})`)
  .call(d3.axisBottom(x).tickValues(xTicks).tickSize(3).tickSizeOuter(0).tickPadding(7).tickFormat(d=>d+"°"));
const yAxis = svg.append("g").attr("transform",`translate(${x(-180)},0)`)
  .call(d3.axisLeft(y).tickValues(yTicks).tickSize(4).tickSizeOuter(0).tickPadding(3).tickFormat(d=>d===8?"8 min.":d));
[xAxis,yAxis].forEach(g=>{
  g.selectAll("text").attr("font-size",13).attr("fill","#111");
  g.selectAll("path,line").attr("stroke","#222");
  g.attr("font-family",null);
});

// annotation
const note = svg.append("text").attr("class","wide").attr("x",565).attr("y",127).attr("font-size",15.5).attr("fill","#111")
  .attr("stroke","#fff").attr("stroke-width",2.5).attr("paint-order","stroke").attr("stroke-linejoin","round");
noteLines.forEach((l,i)=> note.append("tspan").attr("x",565).attr("dy",i===0?0:19).text(l));
</script>
</body></html>
